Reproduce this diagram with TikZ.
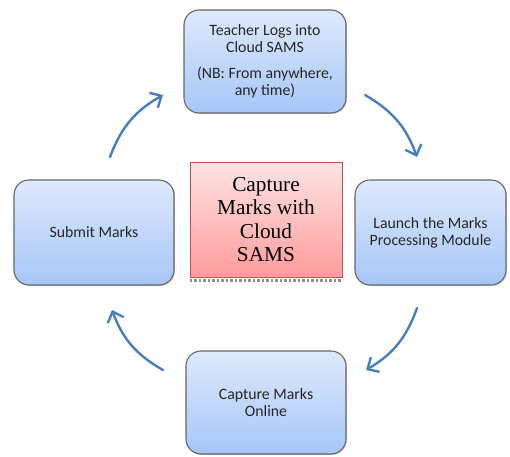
\documentclass[tikz,border=0pt]{standalone}
\usepackage{fontspec}
\setmainfont{Carlito}
\newfontfamily\serifred{Liberation Serif}
\usetikzlibrary{arrows.meta,shadows,positioning}
\definecolor{boxtop}{HTML}{DEE9FC}
\definecolor{boxbot}{HTML}{A6C6F8}
\definecolor{redtop}{HTML}{FFE4E4}
\definecolor{redbot}{HTML}{FF9C9C}
\definecolor{redline}{HTML}{C0504D}
\definecolor{arrowblue}{HTML}{4A7EBB}
\tikzset{
  stepbox/.style={draw=black!60, line width=1.1pt, rounded corners=15pt,
    top color=boxtop, bottom color=boxbot, align=center,
    font=\fontsize{15.8}{17}\selectfont, text=black!85,
    drop shadow={shadow xshift=1pt, shadow yshift=-1pt, opacity=0.35}},
  centerbox/.style={draw=redline, line width=1pt, top color=redtop, bottom color=redbot,
    align=center, font=\serifred\fontsize{21.3}{23.5}\selectfont},
  cyclearrow/.style={draw=arrowblue, line width=2.4pt, line cap=round,
    -{Straight Barb[length=9pt,width=17pt,line width=2.4pt]}, bend left=20}
}
\begin{document}
\begin{tikzpicture}[x=1pt,y=1pt]
\useasboundingbox (0,0) rectangle (510,456);
\node[stepbox, minimum width=162pt, minimum height=103pt] (top) at (265,394.5)
  {Teacher Logs into\\Cloud SAMS\\[9pt](NB: From anywhere,\\any time)};
\node[stepbox, minimum width=151pt, minimum height=105pt] (right) at (430.5,223.5)
  {Launch the Marks\\Processing Module};
\node[stepbox, minimum width=160pt, minimum height=105pt] (left) at (94,223.5)
  {Submit Marks};
\node[stepbox, minimum width=160pt, minimum height=103pt] (bottom) at (266,53.5)
  {Capture Marks\\Online};
\node[centerbox, minimum width=152pt, minimum height=115pt] (center) at (266,236.5)
  {Capture\\Marks with\\Cloud\\SAMS};
\draw[black!45, dotted, line width=2.5pt] ([yshift=-3pt]center.south west) -- ([yshift=-3pt]center.south east);
\coordinate (a1s) at (365,361);
\coordinate (a1e) at (417,299);
\coordinate (a2s) at (417,148);
\coordinate (a2e) at (366,86);
\coordinate (a3s) at (163,86);
\coordinate (a3e) at (112,146);
\coordinate (a4s) at (110,299);
\coordinate (a4e) at (163,361);
\draw[cyclearrow] (a1s) to (a1e);
\draw[cyclearrow] (a2s) to (a2e);
\draw[cyclearrow] (a3s) to (a3e);
\draw[cyclearrow] (a4s) to (a4e);
\end{tikzpicture}
\end{document}
